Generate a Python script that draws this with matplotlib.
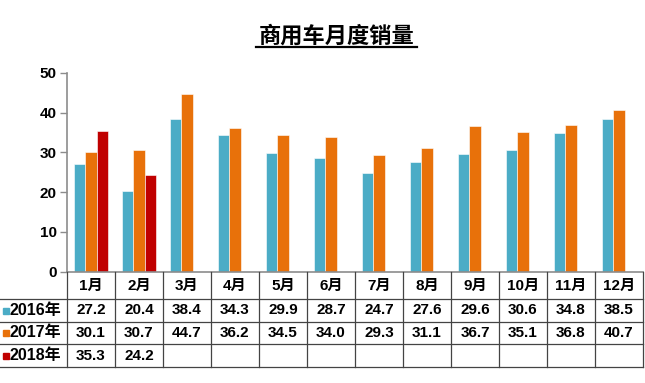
import numpy as np
import matplotlib.pyplot as plt
import matplotlib.transforms as mtransforms
from matplotlib.lines import Line2D

plt.rcParams['font.family'] = ['Liberation Sans', 'Noto Sans CJK SC']
plt.rcParams['font.weight'] = 'bold'

# 数据
title = '商用车月度销量'
months = ['1月', '2月', '3月', '4月', '5月', '6月', '7月', '8月', '9月', '10月', '11月', '12月']
years = ['2016年', '2017年', '2018年']
sales_2016 = [27.2, 20.4, 38.4, 34.3, 29.9, 28.7, 24.7, 27.6, 29.6, 30.6, 34.8, 38.5]
sales_2017 = [30.1, 30.7, 44.7, 36.2, 34.5, 34.0, 29.3, 31.1, 36.7, 35.1, 36.8, 40.7]
sales_2018 = [35.3, 24.2]
colors = ['#4BACC6', '#E8710A', '#C00000']
series = [sales_2016, sales_2017, sales_2018]

W, H = 645, 383
fig = plt.figure(figsize=(W / 100, H / 100), dpi=100)
fig.patch.set_facecolor('white')


def fx(p):  # pixel -> figure fraction (x)
    return p / W


def fy(p):  # pixel -> figure fraction (y, from top)
    return 1 - p / H


ax = fig.add_axes([fx(67), fy(271.5), fx(576), 198.5 / H])

x = np.arange(len(months))
w = 0.236
for i, s in enumerate(series):
    ax.bar(x[:len(s)] + (i - 1) * w, s, w, color=colors[i],
           edgecolor='white', linewidth=0.4)

ax.set_xlim(-0.5, len(months) - 0.5)
ax.set_ylim(0, 50)
ax.set_yticks(range(0, 51, 10))
ax.set_xticks([])
for sp in ['top', 'right']:
    ax.spines[sp].set_visible(False)
for sp in ['left', 'bottom']:
    ax.spines[sp].set_color('#8c8c8c')
    ax.spines[sp].set_linewidth(1.2)
ax.tick_params(axis='y', length=5, width=1, color='#8c8c8c', pad=2.5, labelsize=11)

# 标题（带下划线）
fig.text(fx(336.5), fy(36), title, fontsize=16, ha='center', va='center',
         family=['Noto Sans CJK SC'], fontweight='bold')
fig.add_artist(Line2D([fx(256), fx(417)], [fy(46.5), fy(46.5)], color='black', lw=1.6))

# 数据表
blend = mtransforms.blended_transform_factory(ax.transData, fig.transFigure)
rows_y = [272, 299, 322, 344, 367]
lc = '#444444'
for k in range(len(months) + 1):
    fig.add_artist(Line2D([k - 0.5, k - 0.5], [fy(rows_y[0]), fy(rows_y[-1])],
                          transform=blend, color=lc, lw=0.9))
for yy in rows_y[1:]:
    fig.add_artist(Line2D([fx(0), fx(643)], [fy(yy), fy(yy)], color=lc, lw=0.9))

hy = (rows_y[0] + rows_y[1]) / 2
for j, m in enumerate(months):
    ax.text(x[j], fy(hy), m, transform=blend, ha='center', va='center', fontsize=11)

for i, s in enumerate(series):
    cy = (rows_y[i + 1] + rows_y[i + 2]) / 2
    fig.add_artist(Line2D([fx(6)], [fy(cy)], marker='s', markersize=4.2,
                          color=colors[i], linestyle='none'))
    fig.text(fx(9), fy(cy), years[i], ha='left', va='center', fontsize=11.5)
    for j, v in enumerate(s):
        ax.text(x[j], fy(cy), f'{v:.1f}', transform=blend, ha='center', va='center',
                fontsize=11)

fig.savefig('out.png', dpi=100, facecolor='white')
